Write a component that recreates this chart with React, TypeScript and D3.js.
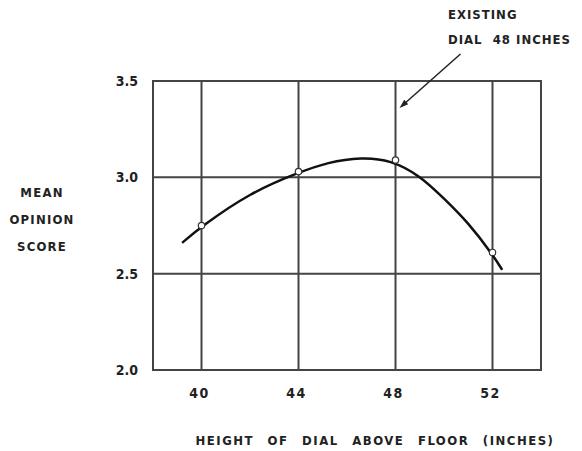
import React, { useEffect, useRef } from 'react';
import * as d3 from 'd3';

const xTicks = [40, 44, 48, 52];
const yTicks = [2.0, 2.5, 3.0, 3.5];
const yTickLabels = ['2.0', '2.5', '3.0', '3.5'];

// observed mean opinion scores
const obsHeight = [40, 44, 48, 52];
const obsScore = [2.75, 3.03, 3.09, 2.61];

// fitted curve
const curveHeight = [39.2, 40, 42, 44, 45.2, 46.6, 47.8, 49, 50, 51, 52, 52.4];
const curveScore = [2.66, 2.745, 2.92, 3.025, 3.078, 3.105, 3.09, 3.01, 2.89, 2.765, 2.6, 2.52];

const width = 582;
const height = 451;

const App: React.FC = () => {
  const svgRef = useRef<SVGSVGElement>(null);

  useEffect(() => {
    const svg = d3.select(svgRef.current);
    svg.selectAll('*').remove();

    const margin = { top: 81, right: 41, bottom: 81, left: 153 };
    const innerWidth = width - margin.left - margin.right;
    const innerHeight = height - margin.top - margin.bottom;
    const ink = '#222';
    const font = '"DejaVu Sans Condensed", "DejaVu Sans", sans-serif';

    const x = d3.scaleLinear().domain([38, 54]).range([0, innerWidth]);
    const y = d3.scaleLinear().domain([2.0, 3.5]).range([innerHeight, 0]);

    const g = svg.append('g').attr('transform', `translate(${margin.left},${margin.top})`);

    // grid
    g.selectAll('.vgrid')
      .data(xTicks)
      .enter()
      .append('line')
      .attr('x1', d => x(d))
      .attr('x2', d => x(d))
      .attr('y1', 0)
      .attr('y2', innerHeight)
      .attr('stroke', '#444')
      .attr('stroke-width', 2);

    g.selectAll('.hgrid')
      .data(yTicks.slice(1, 3))
      .enter()
      .append('line')
      .attr('x1', 0)
      .attr('x2', innerWidth)
      .attr('y1', d => y(d))
      .attr('y2', d => y(d))
      .attr('stroke', '#444')
      .attr('stroke-width', 2);

    g.append('rect')
      .attr('width', innerWidth)
      .attr('height', innerHeight)
      .attr('fill', 'none')
      .attr('stroke', '#444')
      .attr('stroke-width', 2);

    // tick labels
    g.selectAll('.xlab')
      .data(xTicks)
      .enter()
      .append('text')
      .attr('x', d => x(d) - 2)
      .attr('y', innerHeight + 28)
      .attr('text-anchor', 'middle')
      .style('font-family', font)
      .style('font-weight', 'bold')
      .style('font-size', '14px')
      .style('letter-spacing', '1.5px')
      .style('fill', ink)
      .text(d => d);

    g.selectAll('.ylab')
      .data(yTicks)
      .enter()
      .append('text')
      .attr('x', -15)
      .attr('y', d => y(d) + 5)
      .attr('text-anchor', 'end')
      .style('font-family', font)
      .style('font-weight', 'bold')
      .style('font-size', '14px')
      .style('fill', ink)
      .text((d, i) => yTickLabels[i]);

    // curve
    const pts: [number, number][] = curveHeight.map((h, i) => [h, curveScore[i]]);
    const line = d3.line<[number, number]>()
      .x(d => x(d[0]))
      .y(d => y(d[1]))
      .curve(d3.curveBasis);

    g.append('path')
      .attr('d', line(pts))
      .attr('fill', 'none')
      .attr('stroke', '#111')
      .attr('stroke-width', 2.5);

    g.selectAll('.pt')
      .data(obsHeight)
      .enter()
      .append('circle')
      .attr('cx', d => x(d))
      .attr('cy', (d, i) => y(obsScore[i]))
      .attr('r', 3.2)
      .attr('fill', 'white')
      .attr('stroke', '#333')
      .attr('stroke-width', 1.2);

    // annotation arrow pointing at the 48 inch line
    const ax0 = x(48) + 65;
    const ay0 = -27;
    const ax1 = x(48) + 4;
    const ay1 = 27;
    g.append('line')
      .attr('x1', ax0)
      .attr('y1', ay0)
      .attr('x2', ax1 + 4)
      .attr('y2', ay1 - 3.5)
      .attr('stroke', '#222')
      .attr('stroke-width', 1.5);
    const ang = Math.atan2(ay1 - ay0, ax1 - ax0);
    const hl = 9;
    const hw = 3;
    const bx = ax1 - hl * Math.cos(ang);
    const by = ay1 - hl * Math.sin(ang);
    g.append('path')
      .attr('d', `M${ax1},${ay1} L${bx - hw * Math.sin(ang)},${by + hw * Math.cos(ang)} L${bx + hw * Math.sin(ang)},${by - hw * Math.cos(ang)} Z`)
      .attr('fill', '#222');

    const note = svg.append('g')
      .style('font-family', font)
      .style('font-weight', 'bold')
      .style('font-size', '13px')
      .style('letter-spacing', '1px')
      .style('fill', ink);
    note.append('text').attr('x', 448).attr('y', 19).text('EXISTING');
    note.append('text').attr('x', 448).attr('y', 44).attr('xml:space', 'preserve').text('DIAL  48 INCHES');

    // y title
    const yt = svg.append('g')
      .style('font-family', font)
      .style('font-weight', 'bold')
      .style('font-size', '13px')
      .style('letter-spacing', '1.2px')
      .style('fill', ink)
      .attr('text-anchor', 'middle');
    ['MEAN', 'OPINION', 'SCORE'].forEach((t, i) => {
      yt.append('text').attr('x', 42).attr('y', 197 + i * 27).text(t);
    });

    // x title
    svg.append('text')
      .attr('x', 375)
      .attr('y', 445)
      .attr('text-anchor', 'middle')
      .attr('xml:space', 'preserve')
      .style('font-family', font)
      .style('font-weight', 'bold')
      .style('font-size', '13px')
      .style('letter-spacing', '1.5px')
      .style('word-spacing', '8px')
      .style('fill', ink)
      .text('HEIGHT OF DIAL ABOVE FLOOR (INCHES)');
  }, []);

  return (
    <svg
      ref={svgRef}
      width={width}
      height={height}
      style={{ position: 'absolute', left: 0, top: 0, background: 'white' }}
    />
  );
};

export default App;
